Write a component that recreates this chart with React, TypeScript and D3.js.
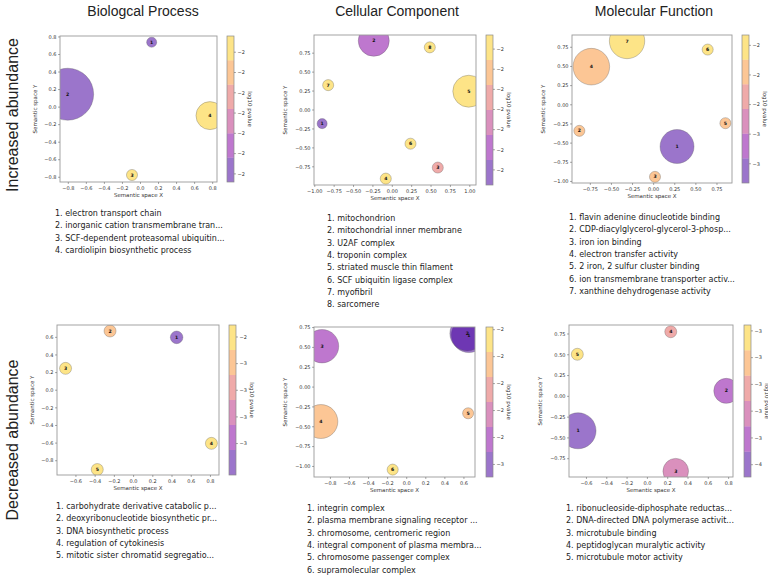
import React from "react";
import * as d3 from "d3";

// ---------- data ----------
const columnTitles = ["Biologcal Process", "Cellular Component", "Molecular Function"];
const rowLabels = ["Increased abundance", "Decreased abundance"];

// Increased – Biological Process
const bpUpTerms = ["electron transport chain", "inorganic cation transmembrane tran...", "SCF-dependent proteasomal ubiquitin...", "cardiolipin biosynthetic process"];
const bpUpX = [0.124, -0.807, -0.094, 0.77];
const bpUpY = [0.74, 0.147, -0.774, -0.097];
const bpUpFreq = [2.8, 75, 3.4, 21.8];
const bpUpLogP = [-2.32, -2.3, -1.96, -1.97];
const bpUpRange = [-2.32, -1.96];
const bpUpCbarTicks = [-2.3, -2.25, -2.2, -2.15, -2.1, -2.05, -2.0];
const bpUpXTicks = [-0.8, -0.6, -0.4, -0.2, 0, 0.2, 0.4, 0.6, 0.8];
const bpUpYTicks = [-0.8, -0.6, -0.4, -0.2, 0, 0.2, 0.4, 0.6, 0.8];

// Increased – Cellular Component
const ccUpTerms = ["mitochondrion", "mitochondrial inner membrane", "U2AF complex", "troponin complex", "striated muscle thin filament", "SCF ubiquitin ligase complex", "myofibril", "sarcomere"];
const ccUpX = [-0.905, -0.239, 0.587, -0.084, 0.987, 0.235, -0.827, 0.484];
const ccUpY = [-0.18, 0.914, -0.76, -0.906, 0.248, -0.445, 0.328, 0.827];
const ccUpFreq = [2.8, 26.7, 3.4, 3.4, 28.4, 3.4, 3.4, 3.4];
const ccUpLogP = [-2.375, -2.2, -1.95, -1.7, -1.66, -1.68, -1.64, -1.63];
const ccUpRange = [-2.375, -1.63];
const ccUpCbarTicks = [-2.3, -2.2, -2.1, -2.0, -1.9, -1.8, -1.7];
const ccUpXTicks = [-1.0, -0.75, -0.5, -0.25, 0, 0.25, 0.5, 0.75, 1.0];
const ccUpYTicks = [-0.75, -0.5, -0.25, 0, 0.25, 0.5, 0.75];

// Increased – Molecular Function
const mfUpTerms = ["flavin adenine dinucleotide binding", "CDP-diacylglycerol-glycerol-3-phosp...", "iron ion binding", "electron transfer activity", "2 iron, 2 sulfur cluster binding", "ion transmembrane transporter activ...", "xanthine dehydrogenase activity"];
const mfUpX = [0.277, -0.88, 0.016, -0.738, 0.85, 0.64, -0.315];
const mfUpY = [-0.544, -0.34, -0.94, 0.497, -0.24, 0.72, 0.832];
const mfUpFreq = [32, 3.4, 3.4, 37.2, 3.4, 3.4, 34.8];
const mfUpLogP = [-2.93, -2.2, -2.15, -2.12, -2.18, -1.96, -1.93];
const mfUpRange = [-2.93, -1.93];
const mfUpCbarTicks = [-2.8, -2.6, -2.4, -2.2, -2.0];
const mfUpXTicks = [-0.75, -0.5, -0.25, 0, 0.25, 0.5, 0.75];
const mfUpYTicks = [-1.0, -0.75, -0.5, -0.25, 0, 0.25, 0.5, 0.75];

// Decreased – Biological Process
const bpDownTerms = ["carbohydrate derivative catabolic p...", "deoxyribonucleotide biosynthetic pr...", "DNA biosynthetic process", "regulation of cytokinesis", "mitotic sister chromatid segregatio..."];
const bpDownX = [0.448, -0.245, -0.708, 0.81, -0.378];
const bpDownY = [0.6, 0.672, 0.248, -0.603, -0.9];
const bpDownFreq = [4.4, 4, 4, 4, 4];
const bpDownLogP = [-3.436, -2.6, -2.33, -2.31, -2.35];
const bpDownRange = [-3.436, -2.31];
const bpDownCbarTicks = [-3.2, -3.0, -2.8, -2.6, -2.4];
const bpDownXTicks = [-0.6, -0.4, -0.2, 0, 0.2, 0.4, 0.6, 0.8];
const bpDownYTicks = [-0.8, -0.6, -0.4, -0.2, 0, 0.2, 0.4, 0.6];

// Decreased – Cellular Component
const ccDownTerms = ["integrin complex", "plasma membrane signaling receptor ...", "chromosome, centromeric region", "integral component of plasma membra...", "chromosome passenger complex", "supramolecular complex"];
const ccDownX = [0.652, 0.636, -0.888, -0.9, 0.644, -0.147];
const ccDownY = [0.655, 0.676, 0.515, -0.434, -0.33, -1.04];
const ccDownFreq = [34, 34, 31, 32, 3.4, 3.4];
const ccDownLogP = [-2.693, -2.66, -2.42, -1.85, -1.82, -1.58];
const ccDownRange = [-2.693, -1.58];
const ccDownCbarTicks = [-2.6, -2.4, -2.2, -2.0, -1.8, -1.6];
const ccDownXTicks = [-0.8, -0.6, -0.4, -0.2, 0, 0.2, 0.4, 0.6];
const ccDownYTicks = [-1.0, -0.75, -0.5, -0.25, 0, 0.25, 0.5, 0.75];

// Decreased – Molecular Function
const mfDownTerms = ["ribonucleoside-diphosphate reductas...", "DNA-directed DNA polymerase activit...", "microtubule binding", "peptidoglycan muralytic activity", "microtubule motor activity"];
const mfDownX = [-0.683, 0.777, 0.279, 0.23, -0.69];
const mfDownY = [-0.414, 0.066, -0.9, 0.777, 0.506];
const mfDownFreq = [36, 17.4, 18.2, 4, 4];
const mfDownLogP = [-3.692, -3.4, -3.22, -3.03, -2.556];
const mfDownRange = [-3.692, -2.556];
const mfDownCbarTicks = [-3.6, -3.4, -3.2, -3.0, -2.8, -2.6];
const mfDownXTicks = [-0.6, -0.4, -0.2, 0, 0.2, 0.4, 0.6, 0.8];
const mfDownYTicks = [-0.75, -0.5, -0.25, 0, 0.25, 0.5, 0.75];

// ---------- layout ----------
const panels = [
  { terms: bpUpTerms, xs: bpUpX, ys: bpUpY, freq: bpUpFreq, logp: bpUpLogP, range: bpUpRange, cticks: bpUpCbarTicks, xticks: bpUpXTicks, yticks: bpUpYTicks,
    l: 60, r: 217, t: 36, b: 182, cx: 227, xd: [-0.892, 0.848], yd: [-0.854, 0.811], xf: ".1f", yf: ".1f", listX: 55, listY: 213 },
  { terms: ccUpTerms, xs: ccUpX, ys: ccUpY, freq: ccUpFreq, logp: ccUpLogP, range: ccUpRange, cticks: ccUpCbarTicks, xticks: ccUpXTicks, yticks: ccUpYTicks,
    l: 314, r: 476, t: 35, b: 185, cx: 486, xd: [-1.01, 1.08], yd: [-0.99, 0.99], xf: ".2f", yf: ".2f", listX: 327, listY: 218 },
  { terms: mfUpTerms, xs: mfUpX, ys: mfUpY, freq: mfUpFreq, logp: mfUpLogP, range: mfUpRange, cticks: mfUpCbarTicks, xticks: mfUpXTicks, yticks: mfUpYTicks,
    l: 572, r: 732, t: 35, b: 183, cx: 742, xd: [-0.967, 0.928], yd: [-1.02, 0.91], xf: ".2f", yf: ".2f", listX: 569, listY: 217 },
  { terms: bpDownTerms, xs: bpDownX, ys: bpDownY, freq: bpDownFreq, logp: bpDownLogP, range: bpDownRange, cticks: bpDownCbarTicks, xticks: bpDownXTicks, yticks: bpDownYTicks,
    l: 57, r: 219, t: 325, b: 475, cx: 229, xd: [-0.797, 0.889], yd: [-0.962, 0.74], xf: ".1f", yf: ".1f", listX: 56, listY: 506 },
  { terms: ccDownTerms, xs: ccDownX, ys: ccDownY, freq: ccDownFreq, logp: ccDownLogP, range: ccDownRange, cticks: ccDownCbarTicks, xticks: ccDownXTicks, yticks: ccDownYTicks,
    l: 314, r: 475, t: 327, b: 477, cx: 486, xd: [-0.972, 0.716], yd: [-1.133, 0.757], xf: ".1f", yf: ".2f", listX: 307, listY: 508 },
  { terms: mfDownTerms, xs: mfDownX, ys: mfDownY, freq: mfDownFreq, logp: mfDownLogP, range: mfDownRange, cticks: mfDownCbarTicks, xticks: mfDownXTicks, yticks: mfDownYTicks,
    l: 569, r: 733, t: 325, b: 477, cx: 744, xd: [-0.772, 0.843], yd: [-0.97, 0.858], xf: ".1f", yf: ".2f", listX: 566, listY: 508 },
];

const titleX = [143, 397, 654];
const rowY = [115, 440];

const bandT = [0.12, 0.28, 0.44, 0.6, 0.76, 0.9];
const bandColors = bandT.map((t) => d3.interpolatePlasma(t));
const FILL_OP = 0.55;
const rScale = d3.scaleSqrt().domain([0, 100]).range([0, 30]);
const SANS = "'DejaVu Sans', sans-serif";
const TITLE = "'Liberation Sans', Arial, sans-serif";
const CBW = 7;

function Panel({ p, idx }: { p: any; idx: number }) {
  const x = d3.scaleLinear().domain(p.xd).range([p.l, p.r]);
  const y = d3.scaleLinear().domain(p.yd).range([p.b, p.t]);
  const color = d3.scaleQuantize<string>().domain(p.range).range(bandColors);
  const cy = d3.scaleLinear().domain(p.range).range([p.b, p.t]);
  const fx = d3.format(p.xf);
  const fy = d3.format(p.yf);
  const fc = d3.format(".0f");
  const clipId = `clip${idx}`;
  const yLabOff = p.yf === ".2f" ? 27 : 23;
  const n = bandColors.length;
  const bandH = (p.b - p.t) / n;
  const order = d3.range(p.xs.length);
  return (
    <g>
      <defs>
        <clipPath id={clipId}>
          <rect x={p.l} y={p.t} width={p.r - p.l} height={p.b - p.t} />
        </clipPath>
      </defs>
      <g clipPath={`url(#${clipId})`}>
        {order.map((i) => (
          <circle key={i} cx={x(p.xs[i])} cy={y(p.ys[i])} r={rScale(p.freq[i])}
            fill={color(p.logp[i])} fillOpacity={FILL_OP}
            stroke="#5a5a5a" strokeOpacity={0.55} strokeWidth={0.6} />
        ))}
      </g>
      {order.map((i) => (
        <text key={"l" + i} x={x(p.xs[i])} y={y(p.ys[i])} dy="0.35em" textAnchor="middle"
          fontFamily={SANS} fontWeight="bold" fontSize={4.6} fill="#111">{i + 1}</text>
      ))}
      <rect x={p.l} y={p.t} width={p.r - p.l} height={p.b - p.t} fill="none" stroke="#9a9a9a" strokeWidth={0.9} />
      {p.xticks.map((v: number, i: number) => (
        <g key={"xt" + i}>
          <line x1={x(v)} x2={x(v)} y1={p.b} y2={p.b + 2} stroke="#555" strokeWidth={0.5} />
          <text x={x(v)} y={p.b + 8} textAnchor="middle" fontFamily={SANS} fontSize={5} fill="#333">{fx(v)}</text>
        </g>
      ))}
      {p.yticks.map((v: number, i: number) => (
        <g key={"yt" + i}>
          <line x1={p.l - 2} x2={p.l} y1={y(v)} y2={y(v)} stroke="#555" strokeWidth={0.5} />
          <text x={p.l - 3.5} y={y(v)} dy="0.35em" textAnchor="end" fontFamily={SANS} fontSize={5} fill="#333">{fy(v)}</text>
        </g>
      ))}
      <text x={(p.l + p.r) / 2} y={p.b + 14.5} textAnchor="middle" fontFamily={SANS} fontSize={5.5} fill="#333">Semantic space X</text>
      <text transform={`translate(${p.l - yLabOff},${(p.t + p.b) / 2}) rotate(-90)`} textAnchor="middle" fontFamily={SANS} fontSize={5.5} fill="#333">Semantic space Y</text>
      {/* colorbar */}
      {bandColors.map((c, k) => (
        <rect key={"cb" + k} x={p.cx} y={p.b - (k + 1) * bandH} width={CBW} height={bandH} fill={c} fillOpacity={FILL_OP} />
      ))}
      <rect x={p.cx} y={p.t} width={CBW} height={p.b - p.t} fill="none" stroke="#8a8a8a" strokeWidth={0.7} />
      {p.cticks.map((v: number, i: number) => (
        <g key={"ct" + i}>
          <line x1={p.cx + CBW} x2={p.cx + CBW + 2} y1={cy(v)} y2={cy(v)} stroke="#555" strokeWidth={0.5} />
          <text x={p.cx + CBW + 3.5} y={cy(v)} dy="0.35em" fontFamily={SANS} fontSize={5} fill="#333">{fc(v)}</text>
        </g>
      ))}
      <text transform={`translate(${p.cx + CBW + 13.5},${(p.t + p.b) / 2}) rotate(90)`} textAnchor="middle" fontFamily={SANS} fontSize={5.5} fill="#333">log10 pvalue</text>
      {/* term list */}
      {p.terms.map((t: string, i: number) => (
        <text key={"tm" + i} x={p.listX} y={p.listY + 3 + i * 12.3} fontFamily={SANS} fontSize={8} fill="#222">{`${i + 1}. ${t}`}</text>
      ))}
    </g>
  );
}

export default function App() {
  return (
    <svg width={768} height={578} style={{ position: "absolute", left: 0, top: 0, background: "#fff" }}>
      <rect width={768} height={578} fill="#fff" />
      {columnTitles.map((t, i) => (
        <text key={t} x={titleX[i]} y={16} textAnchor="middle" fontFamily={TITLE} fontSize={14} fill="#222">{t}</text>
      ))}
      {rowLabels.map((t, i) => (
        <text key={t} transform={`translate(18,${rowY[i]}) rotate(-90)`} textAnchor="middle" fontFamily={TITLE} fontSize={16} fill="#222">{t}</text>
      ))}
      {panels.map((p, i) => (
        <Panel key={i} p={p} idx={i} />
      ))}
    </svg>
  );
}
